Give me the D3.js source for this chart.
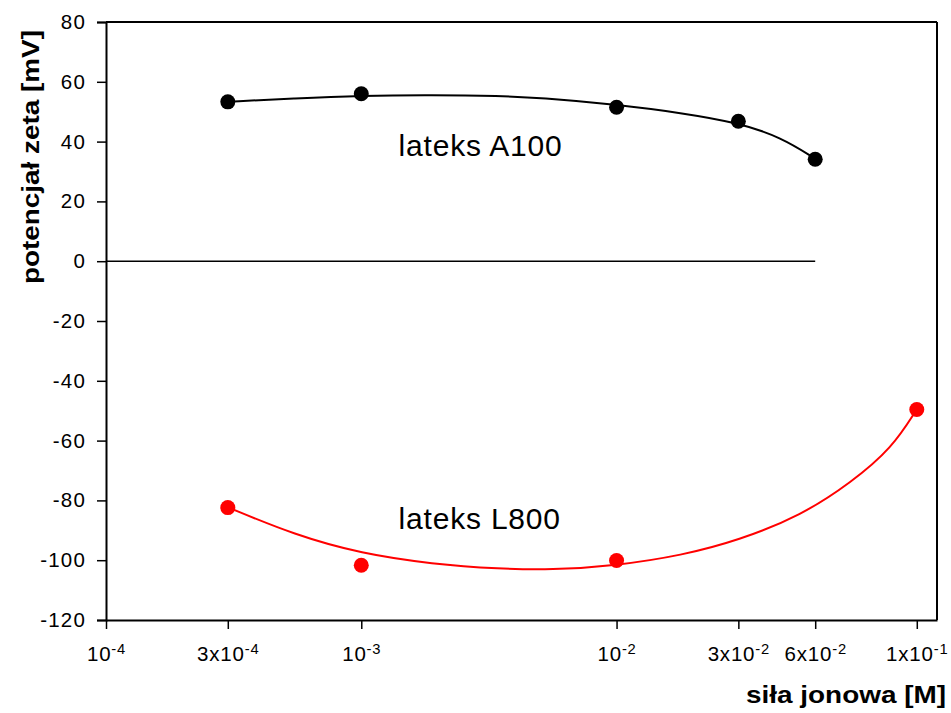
<!DOCTYPE html>
<html>
<head>
<meta charset="utf-8">
<script src="https://cdn.jsdelivr.net/npm/d3@7"></script>
<style>
	body { margin: 0; background: #fff; }
	text { font-family: "Liberation Sans", Arial, sans-serif; }
</style>
</head>
<body>
<svg id="chart"></svg>
<script>
// measured points, latex A100 (black) and L800 (red)
var a100X = [3e-4, 1e-3, 1e-2, 3e-2, 6e-2];
var a100Y = [53.3, 56.0, 51.5, 46.8, 34.1];
var l800X = [3e-4, 1e-3, 1e-2, 0.15];
var l800Y = [-82.4, -101.7, -100.1, -49.6];

// fitted curves
var a100FitX = [3e-4, 5.5e-4, 1e-3, 1.9e-3, 3.5e-3, 5e-3, 1e-2, 1.8e-2, 3e-2, 4.4e-2, 6e-2];
var a100FitY = [53.3, 54.5, 55.4, 55.6, 55.3, 54.7, 52.4, 49.6, 46.3, 41.5, 34.3];
var l800FitX = [3e-4, 5.5e-4, 1e-3, 1.9e-3, 3.5e-3, 5.5e-3, 1e-2, 1.8e-2, 3e-2, 5.3e-2, 8.3e-2, 0.12, 0.15];
var l800FitY = [-82.3, -91.6, -97.8, -101.3, -102.9, -103.3, -101.8, -98.4, -93.4, -85.0, -74.0, -62.5, -49.5];

// axis ticks
var yTicks = [80, 60, 40, 20, 0, -20, -40, -60, -80, -100, -120];
var xTickValues = [1e-4, 3e-4, 1e-3, 1e-2, 3e-2, 6e-2, 0.15];
var xTickBase = ["10", "3x10", "10", "10", "3x10", "6x10", "1x10"];
var xTickExp = ["-4", "-4", "-3", "-2", "-2", "-2", "-1"];

window.onload = function() {

	var margin = {top: 22, right: 14, bottom: 93, left: 106},
		width = 951 - margin.left - margin.right,
		height = 713 - margin.top - margin.bottom;

	var x = d3.scaleLog().domain([1e-4, 0.18]).range([0, width]),
		y = d3.scaleLinear().domain([-120, 80]).range([height, 0]);

	var svg = d3.select("#chart")
		.attr("width", 951)
		.attr("height", 713)
	  .append("g")
		.attr("transform", "translate(" + margin.left + "," + margin.top + ")");

	// frame: top and right
	svg.append("line")
		.attr("x1", 0).attr("x2", width)
		.attr("y1", 0).attr("y2", 0)
		.attr("stroke", "#000").attr("stroke-width", 2);
	svg.append("line")
		.attr("x1", width).attr("x2", width)
		.attr("y1", 0).attr("y2", height)
		.attr("stroke", "#000").attr("stroke-width", 2);

	// zero line
	svg.append("line")
		.attr("x1", x(1e-4)).attr("x2", x(6e-2))
		.attr("y1", y(0)).attr("y2", y(0))
		.attr("stroke", "#000").attr("stroke-width", 1.5);

	// y axis
	var yAxis = svg.append("g")
		.call(d3.axisLeft(y)
			.tickValues(yTicks)
			.tickSize(9)
			.tickPadding(11)
			.tickFormat(function(d) { return String(d); }));
	yAxis.select(".domain").attr("stroke-width", 2);
	yAxis.selectAll(".tick line").attr("stroke-width", 1.5);
	yAxis.selectAll(".tick text")
		.attr("font-size", 20.5)
		.attr("letter-spacing", 1.2)
		.attr("font-family", "Liberation Sans, Arial, sans-serif");

	// x axis
	var xAxis = svg.append("g")
		.attr("transform", "translate(0," + height + ")")
		.call(d3.axisBottom(x)
			.tickValues(xTickValues)
			.tickSize(9)
			.tickSizeOuter(0)
			.tickPadding(17));
	xAxis.select(".domain").attr("stroke-width", 2);
	xAxis.selectAll(".tick line").attr("stroke-width", 1.5);
	xAxis.selectAll(".tick text")
		.attr("font-size", 20.5)
		.attr("letter-spacing", 0.8)
		.attr("font-family", "Liberation Sans, Arial, sans-serif")
		.each(function(d, i) {
			var t = d3.select(this);
			t.text(null);
			t.append("tspan").text(xTickBase[i]);
			t.append("tspan")
				.attr("dy", "-0.45em")
				.attr("font-size", "0.72em")
				.text(xTickExp[i]);
		});

	// axis titles
	svg.append("text")
		.attr("transform", "translate(" + (-67) + "," + 135 + ") rotate(-90)")
		.attr("text-anchor", "middle")
		.attr("font-size", 24)
		.attr("font-weight", "bold")
		.attr("textLength", 254)
		.attr("lengthAdjust", "spacingAndGlyphs")
		.text("potencjał zeta [mV]");
	svg.append("text")
		.attr("x", width + 9)
		.attr("y", height + 83)
		.attr("text-anchor", "end")
		.attr("font-size", 24)
		.attr("font-weight", "bold")
		.attr("textLength", 200)
		.attr("lengthAdjust", "spacingAndGlyphs")
		.text("siła jonowa [M]");

	// fitted curves
	var line = d3.line()
		.x(function(d) { return x(d[0]); })
		.y(function(d) { return y(d[1]); })
		.curve(d3.curveBasis);

	svg.append("path")
		.attr("d", line(d3.zip(a100FitX, a100FitY)))
		.attr("fill", "none")
		.attr("stroke", "#000")
		.attr("stroke-width", 2);
	svg.append("path")
		.attr("d", line(d3.zip(l800FitX, l800FitY)))
		.attr("fill", "none")
		.attr("stroke", "#ff0000")
		.attr("stroke-width", 2);

	// points
	svg.selectAll("circle.a100")
		.data(d3.zip(a100X, a100Y))
	  .enter().append("circle")
		.attr("class", "a100")
		.attr("cx", function(d) { return x(d[0]); })
		.attr("cy", function(d) { return y(d[1]); })
		.attr("r", 7.5)
		.attr("fill", "#000");
	svg.selectAll("circle.l800")
		.data(d3.zip(l800X, l800Y))
	  .enter().append("circle")
		.attr("class", "l800")
		.attr("cx", function(d) { return x(d[0]); })
		.attr("cy", function(d) { return y(d[1]); })
		.attr("r", 7.5)
		.attr("fill", "#ff0000");

	// series labels
	svg.append("text")
		.attr("x", x(1.4e-3))
		.attr("y", y(35.2))
		.attr("font-size", 30)
		.attr("letter-spacing", 0.8)
		.text("lateks A100");
	svg.append("text")
		.attr("x", x(1.4e-3))
		.attr("y", y(-89.5))
		.attr("font-size", 30)
		.attr("letter-spacing", 0.8)
		.text("lateks L800");
};
</script>
</body>
</html>
